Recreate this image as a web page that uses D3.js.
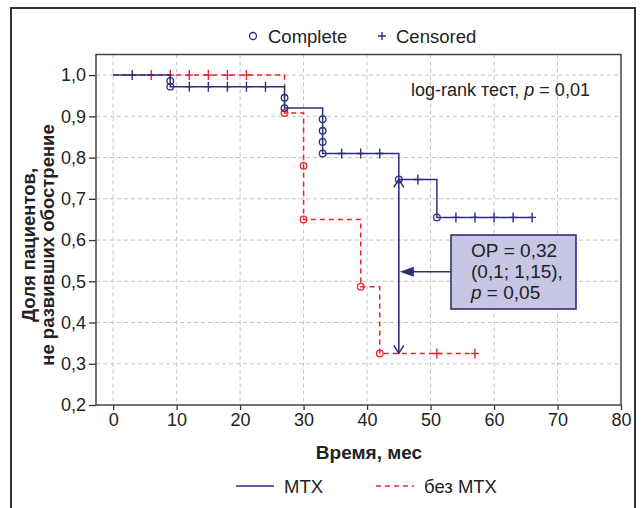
<!DOCTYPE html>
<html>
<head>
<meta charset="utf-8">
<script src="https://cdn.jsdelivr.net/npm/d3@7"></script>
<style>
  body { margin: 0; background: #fff; }
  text { font-family: "Liberation Sans", Arial, sans-serif; fill: #222; }
</style>
</head>
<body>
<script>
// step data: [time, survival]
var mtxSteps = [[0, 1.0], [9, 0.972], [27, 0.92], [33, 0.81], [45, 0.747], [51, 0.655]];
var mtxEnd = 66;
var mtxComplete = [[9, 0.986], [9, 0.972], [27, 0.945], [27, 0.92], [33, 0.893], [33, 0.865], [33, 0.838], [33, 0.81], [45, 0.747], [51, 0.655]];
var mtxCensored = [3, 12, 15, 18, 21, 24, 36, 39, 42, 48, 54, 57, 60, 63, 66];

var noSteps = [[0, 1.0], [27, 0.908], [30, 0.65], [39, 0.487], [42, 0.325]];
var noEnd = 57;
var noComplete = [[27, 0.908], [30, 0.78], [30, 0.65], [39, 0.487], [42, 0.325]];
var noCensored = [6, 9, 12, 15, 18, 21, 51, 57];

var xTicks = [0, 10, 20, 30, 40, 50, 60, 70, 80];
var yTicks = [0.2, 0.3, 0.4, 0.5, 0.6, 0.7, 0.8, 0.9, 1.0];

// hazard ratio annotation
var hrTime = 45, hrFrom = 0.747, hrTo = 0.325, hrArrowY = 0.523;
var hrLines = ["ОР = 0,32", "(0,1; 1,15),", "p = 0,05"];
var logRankText = "log-rank тест, ";

var blue = "#2e2e7c", red = "#e8232b";

var svg = d3.select("body").append("svg")
    .attr("width", 644)
    .attr("height", 508);

// outer border
svg.append("rect")
    .attr("x", 11).attr("y", 8)
    .attr("width", 624).attr("height", 520)
    .attr("fill", "none")
    .attr("stroke", "#333")
    .attr("stroke-width", 2);

var pLeft = 96, pRight = 621, pTop = 54.5, pBottom = 405;

var x = d3.scaleLinear().domain([-2.7, 80]).range([pLeft, pRight]);
var y = d3.scaleLinear().domain([0.2, 1.05]).range([pBottom, pTop]);

// grid
svg.append("g").selectAll("line")
    .data(xTicks.filter(function(d) { return d < 80; }))
    .join("line")
    .attr("x1", function(d) { return x(d); })
    .attr("x2", function(d) { return x(d); })
    .attr("y1", pTop).attr("y2", pBottom)
    .attr("stroke", "#c4c4c4")
    .attr("stroke-dasharray", "4,3");

svg.append("g").selectAll("line")
    .data(yTicks.filter(function(d) { return d > 0.2; }))
    .join("line")
    .attr("x1", pLeft).attr("x2", pRight)
    .attr("y1", function(d) { return y(d); })
    .attr("y2", function(d) { return y(d); })
    .attr("stroke", "#c4c4c4")
    .attr("stroke-dasharray", "4,3");

var fmt = function(d) { return d3.format(".1f")(d).replace(".", ","); };

var yAxis = svg.append("g")
    .attr("transform", "translate(" + pLeft + ",0)")
    .call(d3.axisLeft(y).tickValues(yTicks).tickFormat(fmt).tickSize(7).tickPadding(3).tickSizeOuter(0));
yAxis.select(".domain").remove();

var xAxis = svg.append("g")
    .attr("transform", "translate(0," + pBottom + ")")
    .call(d3.axisBottom(x).tickValues(xTicks).tickSize(5).tickPadding(3).tickSizeOuter(0));
xAxis.select(".domain").remove();

svg.selectAll(".tick text")
    .attr("font-size", 18)
    .attr("fill", "#222");
svg.selectAll(".tick line").attr("stroke", "#333").attr("stroke-width", 1.3);

// frame
svg.append("rect")
    .attr("x", pLeft).attr("y", pTop)
    .attr("width", pRight - pLeft).attr("height", pBottom - pTop)
    .attr("fill", "none")
    .attr("stroke", "#444")
    .attr("stroke-width", 1.5);

function survAt(steps, t) {
    var s = steps[0][1];
    steps.forEach(function(p) { if (p[0] <= t) s = p[1]; });
    return s;
}

var line = d3.line()
    .x(function(d) { return x(d[0]); })
    .y(function(d) { return y(d[1]); })
    .curve(d3.curveStepAfter);

function drawCurve(steps, end, complete, censored, color, dash) {
    var pts = steps.concat([[end, steps[steps.length - 1][1]]]);
    svg.append("path")
        .attr("d", line(pts))
        .attr("fill", "none")
        .attr("stroke", color)
        .attr("stroke-width", 1.5)
        .attr("stroke-dasharray", dash);

    svg.append("g").selectAll("path")
        .data(censored)
        .join("path")
        .attr("transform", function(d) { return "translate(" + x(d) + "," + y(survAt(steps, d)) + ")"; })
        .attr("d", "M-4,0H4M0,-5V5")
        .attr("stroke", color)
        .attr("stroke-width", 1.4);

    svg.append("g").selectAll("circle")
        .data(complete)
        .join("circle")
        .attr("cx", function(d) { return x(d[0]); })
        .attr("cy", function(d) { return y(d[1]); })
        .attr("r", 3.3)
        .attr("fill", "none")
        .attr("stroke", color)
        .attr("stroke-width", 1.3);
}

drawCurve(noSteps, noEnd, noComplete, noCensored, red, "5,4");
drawCurve(mtxSteps, mtxEnd, mtxComplete, mtxCensored, blue, null);

// hazard ratio bracket
var hx = x(hrTime);
svg.append("line")
    .attr("x1", hx).attr("x2", hx)
    .attr("y1", y(hrFrom)).attr("y2", y(hrTo))
    .attr("stroke", blue).attr("stroke-width", 1.6);
svg.append("path")
    .attr("d", "M" + (hx - 5) + "," + (y(hrFrom) + 8) + "L" + hx + "," + y(hrFrom) + "L" + (hx + 5) + "," + (y(hrFrom) + 8))
    .attr("fill", "none").attr("stroke", blue).attr("stroke-width", 1.5);
svg.append("path")
    .attr("d", "M" + (hx - 5) + "," + (y(hrTo) - 8) + "L" + hx + "," + y(hrTo) + "L" + (hx + 5) + "," + (y(hrTo) - 8))
    .attr("fill", "none").attr("stroke", blue).attr("stroke-width", 1.5);

var boxX = 451, boxY = 235, boxW = 125, boxH = 74;
var ay = y(hrArrowY);
svg.append("line")
    .attr("x1", boxX).attr("x2", hx + 12)
    .attr("y1", ay).attr("y2", ay)
    .attr("stroke", blue).attr("stroke-width", 1.6);
svg.append("path")
    .attr("d", "M" + (hx + 1) + "," + ay + "L" + (hx + 15) + "," + (ay - 5) + "L" + (hx + 15) + "," + (ay + 5) + "Z")
    .attr("fill", blue);

svg.append("rect")
    .attr("x", boxX).attr("y", boxY)
    .attr("width", boxW).attr("height", boxH)
    .attr("fill", "#c6c6e4")
    .attr("stroke", blue)
    .attr("stroke-width", 1.6);

hrLines.forEach(function(t, i) {
    var tx = svg.append("text")
        .attr("x", 471)
        .attr("y", 257 + i * 21)
        .attr("font-size", 19);
    if (t.indexOf("p ") === 0) {
        tx.append("tspan").attr("font-style", "italic").text("p");
        tx.append("tspan").text(t.slice(1));
    } else {
        tx.text(t);
    }
});

// log-rank text
var lr = svg.append("text")
    .attr("x", 411).attr("y", 95.5)
    .attr("font-size", 18);
lr.append("tspan").text(logRankText);
lr.append("tspan").attr("font-style", "italic").text("p");
lr.append("tspan").text(" = 0,01");

// top legend
svg.append("circle")
    .attr("cx", 253).attr("cy", 36).attr("r", 3.5)
    .attr("fill", "none").attr("stroke", blue).attr("stroke-width", 1.3);
svg.append("text").attr("x", 268).attr("y", 42.5).attr("font-size", 18.5).text("Complete");
svg.append("path")
    .attr("d", "M378,36H386M382,32V40")
    .attr("stroke", blue).attr("stroke-width", 1.4);
svg.append("text").attr("x", 396).attr("y", 42.5).attr("font-size", 18.5).text("Censored");

// axis titles
svg.append("text")
    .attr("x", 369).attr("y", 459)
    .attr("text-anchor", "middle")
    .attr("font-size", 19)
    .attr("font-weight", "bold")
    .text("Время, мес");

var yTitle = ["Доля пациентов,", "не развивших обострение"];
yTitle.forEach(function(t, i) {
    svg.append("text")
        .attr("transform", "translate(" + (29 + i * 19) + ",245) rotate(-90)")
        .attr("dy", "0.35em")
        .attr("text-anchor", "middle")
        .attr("font-size", 18.5)
        .attr("font-weight", "bold")
        .text(t);
});

// bottom legend
svg.append("line")
    .attr("x1", 236).attr("x2", 274).attr("y1", 486).attr("y2", 486)
    .attr("stroke", blue).attr("stroke-width", 1.5);
svg.append("text").attr("x", 284).attr("y", 492.5).attr("font-size", 18.5).text("МТХ");
svg.append("line")
    .attr("x1", 376).attr("x2", 414).attr("y1", 486).attr("y2", 486)
    .attr("stroke", red).attr("stroke-width", 1.5)
    .attr("stroke-dasharray", "5,4");
svg.append("text").attr("x", 424).attr("y", 492.5).attr("font-size", 18.5).text("без МТХ");
</script>
</body>
</html>
